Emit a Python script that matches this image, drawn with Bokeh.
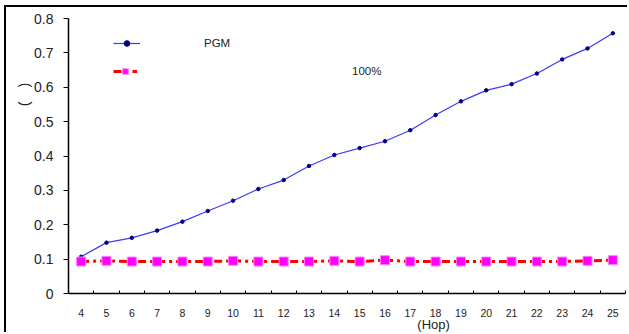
import math
from bokeh.plotting import figure
from bokeh.models import (Range1d, FixedTicker, Legend, LegendItem, LinearAxis)
from bokeh.embed import file_html
from bokeh.resources import INLINE

# ---- data ----
hops = list(range(4, 26))
pgm = [0.107, 0.148, 0.162, 0.183, 0.209, 0.240, 0.270, 0.304, 0.330, 0.371, 0.403,
       0.423, 0.443, 0.475, 0.519, 0.559, 0.591, 0.609, 0.640, 0.681, 0.713, 0.757]
full = [0.093, 0.095, 0.093, 0.093, 0.093, 0.093, 0.095, 0.093, 0.093, 0.093, 0.095,
        0.093, 0.097, 0.093, 0.093, 0.093, 0.093, 0.093, 0.093, 0.093, 0.095, 0.097]
y_ticks = [0, 0.1, 0.2, 0.3, 0.4, 0.5, 0.6, 0.7, 0.8]
y_tick_labels = ["0", "0.1", "0.2", "0.3", "0.4", "0.5", "0.6", "0.7", "0.8"]
series_names = ["PGM", "100%"]
x_label = "(Hop)"
y_label = "(\u2003)"

FONT = "Liberation Sans"

p = figure(width=623, height=327, output_backend="svg", toolbar_location=None,
           x_range=Range1d(3.5, 25.5), y_range=Range1d(0, 0.8),
           min_border_left=62, min_border_right=4, min_border_top=11, min_border_bottom=40)
p.margin = (5, 0, 0, 4)
p.styles = {"border-top": "2px solid #000", "border-left": "2px solid #000"}
p.outline_line_color = None
p.xgrid.visible = False
p.ygrid.visible = False
p.background_fill_color = "white"
p.border_fill_color = "white"

# x axis: labels at hops, tick marks at boundaries
p.xaxis.ticker = FixedTicker(ticks=hops, minor_ticks=[h + 0.5 for h in hops])
p.xaxis.major_tick_in = 0
p.xaxis.major_tick_out = 0
p.xaxis.minor_tick_in = 3
p.xaxis.minor_tick_out = 0
p.xaxis.minor_tick_line_color = "black"
p.xaxis.axis_line_color = "black"
p.xaxis.axis_line_width = 1.5
p.xaxis.major_label_standoff = 15
p.xaxis.major_label_text_font = FONT
p.xaxis.major_label_text_font_size = "10.5px"
p.xaxis.major_label_text_color = "#222222"

# y axis
p.yaxis.ticker = FixedTicker(ticks=y_ticks)
p.yaxis.major_label_overrides = {t: l for t, l in zip(y_ticks, y_tick_labels)}
p.yaxis.major_tick_in = 0
p.yaxis.major_tick_out = 5
p.yaxis.minor_tick_line_color = None
p.yaxis.axis_line_color = "black"
p.yaxis.axis_line_width = 1.5
p.yaxis.major_label_standoff = 10
p.yaxis.major_label_text_font = FONT
p.yaxis.major_label_text_font_size = "14px"
p.yaxis.major_label_text_color = "#222222"

# series
r_line1 = p.line(hops, pgm, line_color="#3a3aff", line_width=1.2)
r_pts1 = p.scatter(hops, pgm, marker="circle", size=3.5, fill_color="#000080", line_color="#000080")

r_line2 = p.line(hops, full, line_color="#ff0000", line_width=3, line_dash="8 4 3 4")
r_pts2 = p.scatter(hops, full, marker="square", size=9, fill_color="#ff00ff",
                   line_color="#ff80ff", line_width=1)

# legends (two, to reproduce separate text offsets)
leg1 = Legend(items=[LegendItem(label=series_names[0], renderers=[r_line1, r_pts1])],
              location=(45, 243), glyph_width=27, glyph_height=14, label_height=14,
              label_standoff=64, padding=0, margin=0, border_line_color=None,
              background_fill_alpha=0, label_text_font=FONT, label_text_font_size="11.5px",
              label_text_color="#222222")
leg2 = Legend(items=[LegendItem(label=series_names[1], renderers=[r_line2, r_pts2])],
              location=(45, 215), glyph_width=24, glyph_height=14, label_height=14,
              label_standoff=215, padding=0, margin=0, border_line_color=None,
              background_fill_alpha=0, label_text_font=FONT, label_text_font_size="11.5px",
              label_text_color="#222222")
p.add_layout(leg1)
p.add_layout(leg2)

# axis titles, placed off-centre like the reference, via label-only axes
xt_pos = 17.92
xt = LinearAxis(ticker=FixedTicker(ticks=[xt_pos]), major_label_overrides={xt_pos: x_label},
                axis_line_color=None, major_tick_line_color=None, minor_tick_line_color=None,
                major_label_standoff=-9, major_label_text_font=FONT,
                major_label_text_font_size="13px", major_label_text_color="#222222")
p.add_layout(xt, "below")

yt_pos = 0.545
yt = LinearAxis(ticker=FixedTicker(ticks=[yt_pos]), major_label_overrides={yt_pos: y_label},
                axis_line_color=None, major_tick_line_color=None, minor_tick_line_color=None,
                major_label_standoff=0, major_label_orientation=-math.pi / 2,
                major_label_text_font=FONT, major_label_text_font_size="14px",
                major_label_text_color="#222222")
p.add_layout(yt, "left")

open("out.html", "w").write(file_html(p, INLINE))
